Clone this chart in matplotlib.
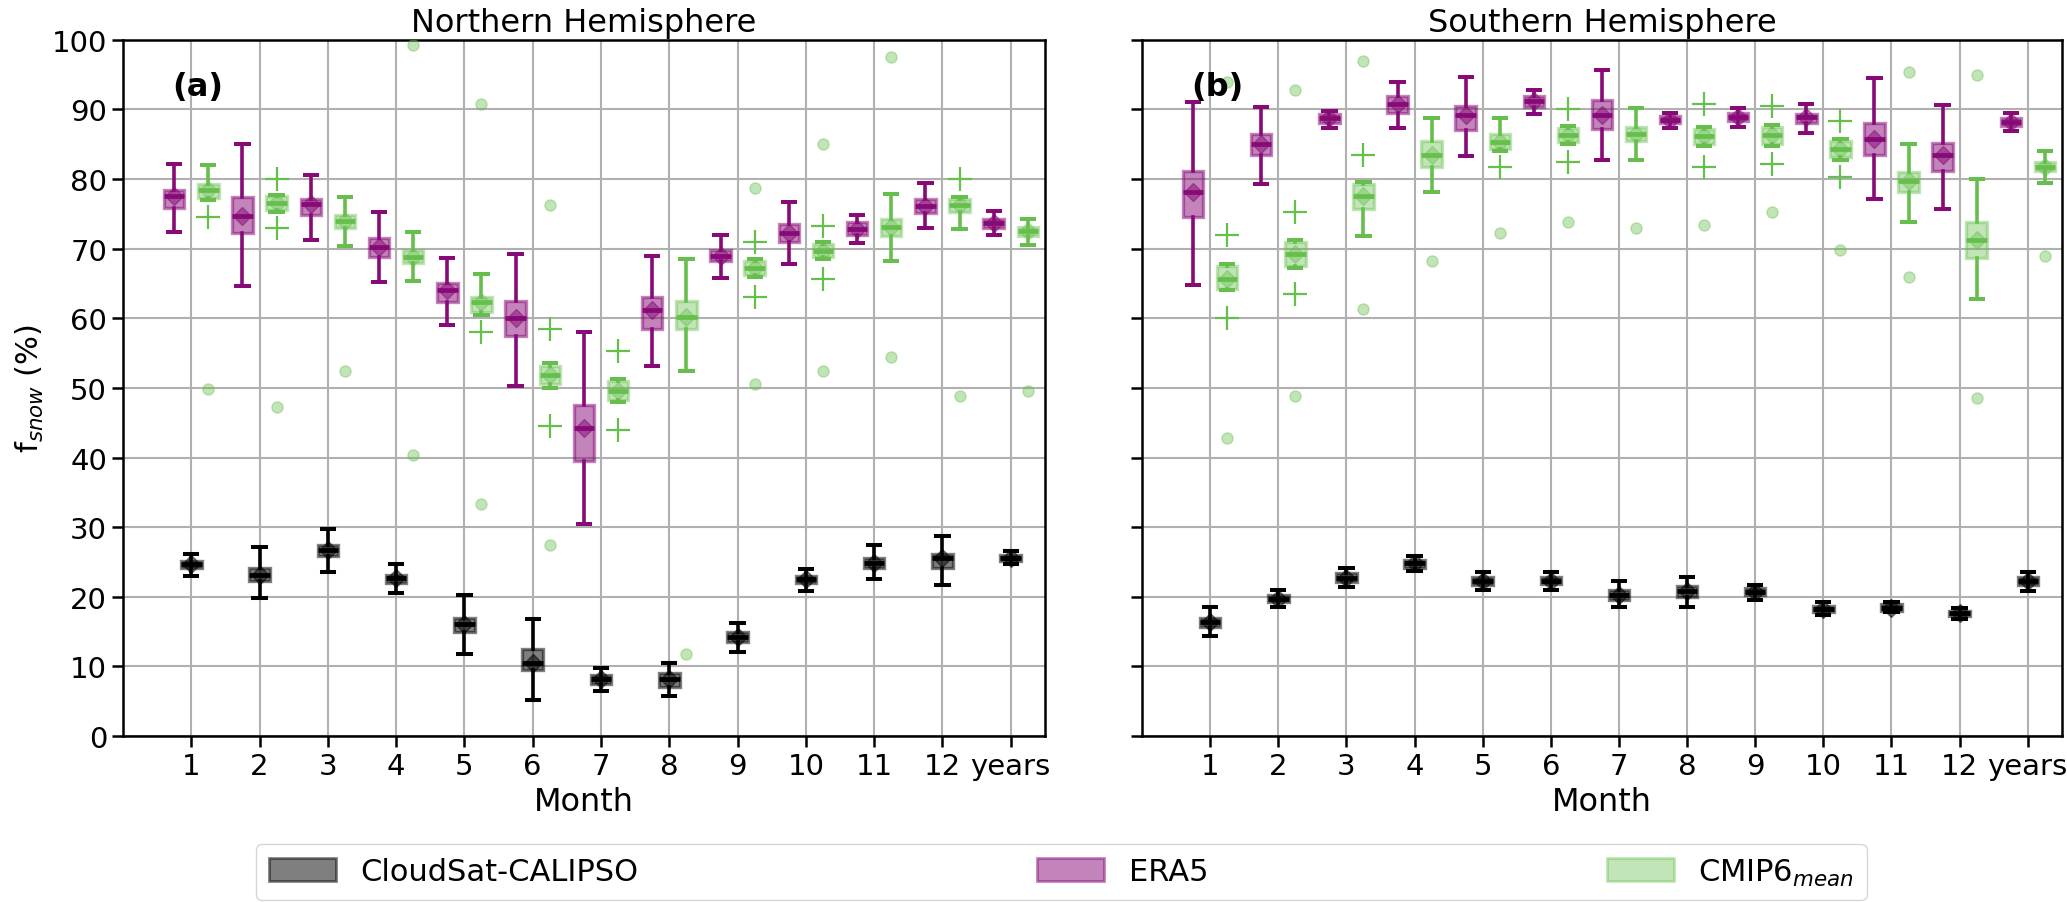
import numpy as np
import matplotlib
matplotlib.use('Agg')
from matplotlib import pyplot as plt
from matplotlib.patches import Patch

# x positions: months 1..12 and the all-years box at 13
tick_labels = ['1', '2', '3', '4', '5', '6', '7', '8', '9', '10', '11', '12', 'years']

# each row: [whisker low, q1, median, q3, whisker high]
nh_cs = [[23.0, 24.1, 24.7, 25.2, 26.1], [19.8, 22.3, 23.2, 24.2, 27.1],
         [23.5, 25.8, 26.7, 27.5, 29.8], [20.6, 22.0, 22.7, 23.2, 24.7],
         [11.8, 14.9, 16.1, 17.0, 20.3], [5.2, 9.5, 10.5, 12.5, 16.8],
         [6.5, 7.5, 8.2, 8.8, 9.7], [5.8, 7.0, 8.2, 9.0, 10.5],
         [12.0, 13.5, 14.2, 15.0, 16.3], [20.8, 22.0, 22.5, 23.0, 24.0],
         [22.6, 24.2, 24.9, 25.6, 27.5], [21.7, 24.2, 25.5, 26.1, 28.8],
         [24.7, 25.2, 25.6, 26.0, 26.6]]

nh_era5 = [[72.4, 75.9, 77.5, 78.5, 82.2], [64.6, 72.3, 74.7, 77.4, 85.1],
           [71.3, 74.8, 76.4, 77.2, 80.6], [65.2, 68.8, 70.3, 71.5, 75.3],
           [59.0, 62.3, 64.0, 65.0, 68.7], [50.3, 57.5, 60.0, 62.5, 69.3],
           [30.5, 39.5, 44.3, 47.5, 58.0], [53.2, 58.5, 61.2, 63.0, 69.0],
           [65.8, 68.2, 69.0, 69.8, 72.0], [67.8, 71.0, 72.3, 73.5, 76.7],
           [70.8, 72.0, 72.8, 73.8, 74.8], [72.9, 75.1, 76.2, 77.2, 79.4],
           [71.9, 72.9, 73.7, 74.3, 75.4]]

nh_cmip = [[77.0, 77.3, 78.4, 79.3, 82.0], [75.3, 75.5, 76.6, 77.5, 77.7],
           [70.4, 72.9, 74.0, 74.8, 77.4], [65.3, 68.0, 68.8, 69.8, 72.4],
           [60.5, 60.9, 62.3, 63.1, 66.3], [50.0, 50.5, 51.8, 53.2, 53.6],
           [48.0, 48.3, 49.5, 51.0, 51.3], [52.5, 58.5, 60.2, 62.5, 68.5],
           [66.0, 66.2, 67.2, 68.2, 68.5], [68.5, 68.8, 69.7, 70.7, 71.0],
           [68.3, 71.8, 73.1, 74.3, 77.9], [72.8, 75.3, 76.3, 77.2, 77.4],
           [70.5, 71.8, 72.5, 73.1, 74.3]]
nh_cmip_fliers = [[49.8], [47.2], [52.5], [99.2, 40.3], [90.8, 33.3], [76.3, 27.5], [],
                  [11.8], [78.7, 50.5], [85.0, 52.5], [97.6, 54.5], [48.8], [49.6]]
nh_cmip_plus = [[74.5], [80.0, 72.9], [], [], [58.0], [58.5, 44.5], [55.3, 44.0],
                [], [71.0, 63.0], [73.3, 65.7], [], [80.0], []]

sh_cs = [[14.3, 15.7, 16.4, 17.0, 18.6], [18.5, 19.3, 19.7, 20.2, 21.0],
         [21.4, 22.1, 22.7, 23.4, 24.1], [23.7, 24.2, 24.8, 25.3, 25.8],
         [21.0, 21.7, 22.2, 22.8, 23.5], [21.0, 21.8, 22.2, 22.8, 23.5],
         [18.5, 19.5, 20.3, 21.0, 22.2], [18.5, 20.0, 20.8, 21.5, 22.8],
         [19.6, 20.2, 20.7, 21.2, 21.7], [17.4, 17.8, 18.2, 18.7, 19.2],
         [17.8, 18.0, 18.4, 18.9, 19.3], [16.8, 17.2, 17.6, 18.0, 18.4],
         [20.9, 21.7, 22.2, 22.8, 23.5]]

sh_era5 = [[64.8, 74.5, 78.2, 81.2, 91.0], [79.3, 83.5, 85.0, 86.5, 90.3],
           [87.3, 88.0, 88.7, 89.3, 89.8], [87.3, 89.5, 90.8, 92.0, 94.0],
           [83.3, 87.0, 89.2, 90.5, 94.7], [89.3, 90.3, 91.2, 92.0, 92.8],
           [82.8, 87.2, 89.2, 91.3, 95.7], [87.3, 88.0, 88.5, 89.0, 89.5],
           [87.5, 88.3, 88.9, 89.5, 90.2], [86.6, 88.1, 88.9, 89.4, 90.8],
           [77.1, 83.5, 85.7, 88.1, 94.5], [75.7, 81.1, 83.4, 85.2, 90.7],
           [86.9, 87.6, 88.2, 88.7, 89.5]]

sh_cmip = [[64.0, 64.2, 65.7, 67.5, 67.8], [67.2, 67.5, 69.3, 71.0, 71.3],
           [71.8, 75.7, 77.5, 79.3, 79.6], [78.2, 81.8, 83.5, 85.5, 88.7],
           [84.0, 84.3, 85.3, 86.5, 88.8], [85.0, 85.3, 86.3, 87.3, 87.6],
           [82.8, 85.5, 86.5, 87.5, 90.2], [84.7, 85.0, 86.2, 87.2, 87.5],
           [84.8, 85.1, 86.3, 87.5, 87.8], [82.8, 83.1, 84.3, 85.4, 85.7],
           [73.9, 78.1, 79.7, 81.0, 85.0], [62.8, 68.7, 71.3, 73.8, 80.0],
           [79.5, 81.1, 81.7, 82.4, 84.0]]
sh_cmip_fliers = [[93.9, 42.8], [92.8, 48.8], [97.0, 61.3], [68.3], [72.3], [73.8], [73.0],
                  [73.4], [75.2], [69.8], [95.4, 66.0], [95.0, 48.5], [69.0]]
sh_cmip_plus = [[72.0, 60.0], [75.2, 63.5], [83.5], [], [81.8], [90.0, 82.5], [],
                [90.8, 81.8], [90.5, 82.2], [88.3, 80.3], [], [], []]

c_cs = 'black'
c_era = '#870a76'
c_cmip = '#66bf4c'

pos = np.arange(1, 14)


def make_stats(rows, fliers=None):
    out = []
    for i, r in enumerate(rows):
        out.append(dict(whislo=r[0], q1=r[1], med=r[2], q3=r[3], whishi=r[4], mean=r[2],
                        fliers=[] if fliers is None else fliers[i]))
    return out


def draw_boxes(ax, rows, x, color, alpha, fliers=None):
    ax.bxp(make_stats(rows, fliers), positions=x, widths=0.3, capwidths=0.18,
           patch_artist=True, showmeans=True, manage_ticks=False, zorder=3,
           boxprops=dict(facecolor=color, edgecolor=color, alpha=alpha, lw=2.4),
           whiskerprops=dict(color=color, lw=2.6),
           capprops=dict(color=color, lw=2.9),
           medianprops=dict(color=color, lw=3.4),
           meanprops=dict(marker='D', markerfacecolor=color, markeredgecolor=color,
                          alpha=alpha, markersize=9),
           flierprops=dict(marker='o', markerfacecolor=color, markeredgecolor=color,
                           alpha=0.4, markersize=8))


def draw_plus(ax, plus, x, color):
    for xi, vals in zip(x, plus):
        if len(vals):
            ax.plot([xi] * len(vals), vals, '+', color=color, ms=17, mew=1.6, zorder=3)


fig = plt.figure(figsize=(20.67, 9.03), dpi=100)
ax1 = fig.add_axes([0.0595, 0.1838, 0.446, 0.771])
ax2 = fig.add_axes([0.5525, 0.1838, 0.445, 0.771])

panels = [(ax1, nh_cs, nh_era5, nh_cmip, nh_cmip_fliers, nh_cmip_plus, 'Northern Hemisphere', '(a)'),
          (ax2, sh_cs, sh_era5, sh_cmip, sh_cmip_fliers, sh_cmip_plus, 'Southern Hemisphere', '(b)')]

for ax, cs, era, cmip, cfl, cplus, title, tag in panels:
    draw_boxes(ax, cs, pos, c_cs, 0.5)
    draw_boxes(ax, era, pos - 0.25, c_era, 0.5)
    draw_boxes(ax, cmip, pos + 0.25, c_cmip, 0.4, cfl)
    draw_plus(ax, cplus, pos + 0.25, c_cmip)

    ax.set_xlim(0, 13.5)
    ax.set_ylim(0, 100)
    ax.set_xticks(pos)
    ax.set_xticklabels(tick_labels)
    ax.set_yticks(np.arange(0, 101, 10))
    ax.grid(True, color='#b0b0b0', lw=1.5, zorder=0)
    ax.set_axisbelow(True)
    ax.tick_params(labelsize=21, width=1.8, length=8)
    for s in ax.spines.values():
        s.set_linewidth(1.8)
    ax.set_xlabel('Month', fontsize=23)
    ax.set_title(title, fontsize=23)
    ax.text(0.053, 0.955, tag, transform=ax.transAxes, fontsize=23,
            fontweight='bold', ha='left', va='top')

ax1.set_ylabel(r'f$_{snow}$ (%)', fontsize=22)
ax2.tick_params(labelleft=False)

handles = [Patch(facecolor=c_cs, edgecolor=c_cs, alpha=0.5, lw=2),
           Patch(facecolor=c_era, edgecolor=c_era, alpha=0.5, lw=2),
           Patch(facecolor=c_cmip, edgecolor=c_cmip, alpha=0.4, lw=2)]
labels = ['CloudSat-CALIPSO', 'ERA5', r'CMIP6$_{mean}$']
fig.legend(handles, labels, loc='upper left', bbox_to_anchor=(0.124, 0.0, 0.779, 0.064),
           mode='expand', ncol=3, fontsize=22, borderaxespad=0,
           handlelength=2.2, handleheight=0.8)

plt.savefig('out.png', dpi=100)
